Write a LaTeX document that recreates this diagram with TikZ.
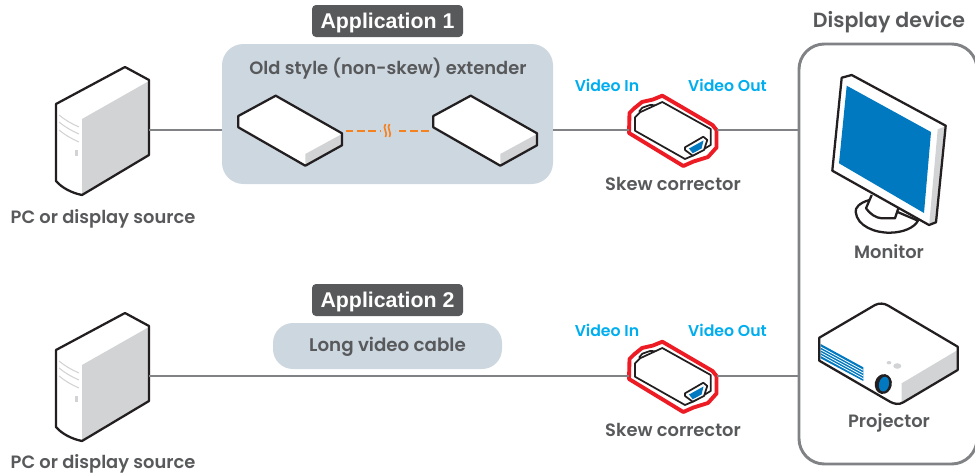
\documentclass[tikz,border=0pt]{standalone}
\usepackage{fontspec}
\setmainfont{Poppins}[BoldFont={Poppins SemiBold}]
\newfontfamily\arialfont{Liberation Sans}
\definecolor{ink}{HTML}{231F20}
\definecolor{txt}{HTML}{58595B}
\definecolor{wire}{HTML}{808285}
\definecolor{panelc}{HTML}{CDD7E0}
\definecolor{greyf}{HTML}{D1D3D4}
\definecolor{cyant}{HTML}{00AEEF}
\definecolor{bluef}{HTML}{0079C1}
\definecolor{redo}{HTML}{ED1C24}
\definecolor{orangeb}{HTML}{F58220}
\newcommand{\pxs}[1]{#1*0.75pt}
\tikzset{
  outline/.style={draw=ink,line width=1.7pt,line join=round},
  wireline/.style={draw=wire,line width=1.5pt},
  lab/.style={font=\bfseries\fontsize{13.4pt}{15pt}\selectfont,text=txt,inner sep=0pt},
  vid/.style={font=\bfseries\fontsize{11.8pt}{13pt}\selectfont,text=cyant,inner sep=0pt},
  apptag/.style={fill=txt,rounded corners=3pt,text=white,inner sep=0pt,minimum width=\pxs{151},minimum height=\pxs{32},font=\arialfont\bfseries\fontsize{16pt}{18pt}\selectfont},
  softbox/.style={fill=panelc,inner sep=0pt},
  breakline/.style={draw=orangeb,line width=1.25pt},
  pc/.pic={
    \fill[white] (125,67)--(56,104)--(56,181) .. controls (62,188) and (72,193) .. (82,195)--(149,155)--(149,80)--cycle;
    \fill[greyf] (82,119)--(149,81)--(149,155)--(82,194)--cycle;
    \foreach \dy in {0,7,15}{\draw[greyf,line width=0.8pt] (59,115+\dy) .. controls (65,120+\dy) and (72,124+\dy) .. (79,127+\dy);}
    \fill[greyf] (75,150) rectangle (78,156);
    \draw[outline] (125,67)--(56,104)--(56,181) .. controls (62,188) and (72,193) .. (82,195)--(149,155)--(149,80)--cycle;
    \coordinate (-port) at (149,130);
  },
  flatbox/.pic={
    \fill[white] (275.7,95.7)--(238.3,116)--(238.3,127.3)--(305.3,165.7)--(342,145.3)--(342,133.3)--cycle;
    \fill[greyf] (305.3,154)--(342,134)--(342,145.3)--(305.3,165.7)--cycle;
    \draw[outline] (275.7,95.7)--(238.3,116)--(238.3,127.3)--(305.3,165.7)--(342,145.3)--(342,133.3)--cycle;
  },
  corrector/.pic={
    \draw[draw=redo,fill=white,line width=2.9pt,line join=round] (662.3,95.7)--(653,99.5)--(642,102)--(634,108.5)--(629.5,113)--(629,133)--(683.3,166)--(693.5,161.5)--(708,157)--(716.5,147.5)--(716.5,130)--(712.5,125)--cycle;
    \draw[draw=ink,line width=1.3pt,line join=round] (662.3,102)--(640,112.3)--(635,117.3)--(635,130.7)--(685,159)--(692.7,155.7)--(710.7,145)--(710.7,129)--cycle;
    \draw[draw=ink,line width=1.3pt,line join=round] (639,111.7)--(642.3,107.7)--(650,105)--(655,105.2);
    \draw[draw=ink,fill=white,line width=1.3pt,line join=round] (685,147.3)--(703.3,136.7)--(707.3,140)--(704,150)--(692.7,155.7)--(685,150)--cycle;
    \fill[bluef] (689,148.5)--(703.5,140.5)--(701.5,148.5)--(692.7,153.3)--cycle;
    \coordinate (-in) at (629,130);
    \coordinate (-out) at (716.5,130);
  }
}
\begin{document}
\begin{tikzpicture}[x=0.75pt,y=-0.75pt]
\useasboundingbox (0,0) rectangle (975,475);
% panels
\node[softbox,rounded corners=16pt,minimum width=\pxs{331},minimum height=\pxs{140}] (panel) at (387.5,114) {};
\node[softbox,rounded corners=15pt,minimum width=\pxs{229},minimum height=\pxs{46},font=\bfseries\fontsize{13.7pt}{15pt}\selectfont,text=txt] (longcable) at (387.5,346) {\raisebox{-4.4pt}[0pt][0pt]{Long video cable}};
\node[draw=wire,line width=2.2pt,rounded corners=19pt,inner sep=0pt,minimum width=\pxs{178},minimum height=\pxs{420}] (display) at (888,254) {};
\node[apptag] (app1) at (387.5,21) {\raisebox{-5.7pt}[0pt][0pt]{Application 1}};
\node[apptag] (app2) at (387.5,300) {\raisebox{-5.7pt}[0pt][0pt]{Application 2}};
% devices
\pic (pca) at (0,0) {pc};
\pic (pcb) at (0,246) {pc};
\pic (boxa) at (0,0) {flatbox};
\pic (boxb) at (195,0) {flatbox};
\pic (skewa) at (0,0) {corrector};
\pic (skewb) at (0,246) {corrector};
% connectors
\draw[wireline] (pca-port) -- (panel.west |- pca-port);
\draw[wireline] (panel.east |- skewa-in) -- (skewa-in);
\draw[wireline] (skewa-out) -- (display.west |- skewa-out);
\draw[wireline] (pcb-port) -- (skewb-in);
\draw[wireline] (skewb-out) -- (display.west |- skewb-out);
\coordinate (dashl) at (345.5,130.7);
\coordinate (dashr) at (429,130.7);
\coordinate (brkl) at (380,130.7);
\coordinate (brkr) at (395,130.7);
\draw[breakline,dash pattern=on 5.8pt off 2.7pt] (dashl) -- (brkl);
\draw[breakline,dash pattern=on 5.8pt off 2.7pt] (dashr) -- (brkr);
\draw[breakline] (385.5,124) .. controls (382,128) and (388.5,133) .. (385.5,137);
\draw[breakline] (389.5,124) .. controls (386,128) and (392.5,133) .. (389.5,137);
% monitor
\draw[outline,fill=white] (869.3,200) .. controls (859,203) and (855,208) .. (855.7,212) .. controls (857,226) and (875,233) .. (890,232.7) .. controls (903,232.5) and (914,228) .. (918,220.7) -- cycle;
\draw[outline,fill=white] (871.7,195) -- (866,208.3) .. controls (870,214) and (876,218) .. (881.7,218.3) -- (895,218.3) -- (898.3,208.3);
\fill[white] (841.7,77.7)--(851.7,75)--(945.7,125.7)--(936,222.3)--(929,225)--(832.3,170.7)--cycle;
\fill[greyf] (937.7,129.3)--(945,126.5)--(936,222)--(929.3,223.5)--cycle;
\draw[outline] (841.7,77.7)--(851.7,75)--(945.7,125.7)--(936,222.3)--(929,225)--(832.3,170.7)--cycle;
\fill[bluef] (846.7,85.7)--(931,132)--(924,213)--(839,163.3)--cycle;
% projector
\fill[white] (819.3,337.7)--(875,305) .. controls (879,303) and (884,303) .. (888.3,305.7) -- (957.7,346.7)--(957.7,370)--(903.3,402.3) .. controls (899,405) and (894,404) .. (890,401.7) -- (819.3,360.7)--cycle;
\fill[greyf] (957.7,350)--(901.7,383.3)--(901.7,402)--(957.7,370)--cycle;
\fill[bluef] (820.7,344)--(863.3,367.3)--(863.3,381)--(820.7,358.3)--cycle;
\foreach \dy in {3,5.8,8.6,11.4}{\draw[white,line width=0.6pt] (820.7,344+\dy)--(863.3,367.3+\dy);}
\draw[outline] (819.3,337.7)--(875,305) .. controls (879,303) and (884,303) .. (888.3,305.7) -- (957.7,346.7)--(957.7,370)--(903.3,402.3) .. controls (899,405) and (894,404) .. (890,401.7) -- (819.3,360.7)--cycle;
\fill[ink,rotate around={-12:(883.3,384)}] (883.3,384) ellipse (8.5 and 10);
\fill[bluef,rotate around={-12:(883.3,384)}] (884,384) ellipse (5 and 7.5);
\fill[greyf] (889,362.7) ellipse (2.4 and 1.7);
\fill[greyf] (897.3,366) ellipse (4 and 2.8);
% labels
\node[lab] (pcla) at (103,219) {PC or display source};
\node[lab] (pclb) at (103,464) {PC or display source};
\node[lab] (oldstyle) at (388,68.5) {Old style (non-skew) extender};
\node[lab] (skla) at (673,184) {Skew corrector};
\node[lab] (sklb) at (673,430) {Skew corrector};
\node[lab,font=\bfseries\fontsize{15.4pt}{17pt}\selectfont] (devlab) at (889,22) {Display device};
\node[lab] (monlab) at (889,252) {Monitor};
\node[lab] (prolab) at (889,423) {Projector};
\node[vid] (via) at (607,85) {Video In};
\node[vid] (voa) at (727.5,85) {Video Out};
\node[vid] (vib) at (607,330.5) {Video In};
\node[vid] (vob) at (727.5,330.5) {Video Out};
\end{tikzpicture}
\end{document}
